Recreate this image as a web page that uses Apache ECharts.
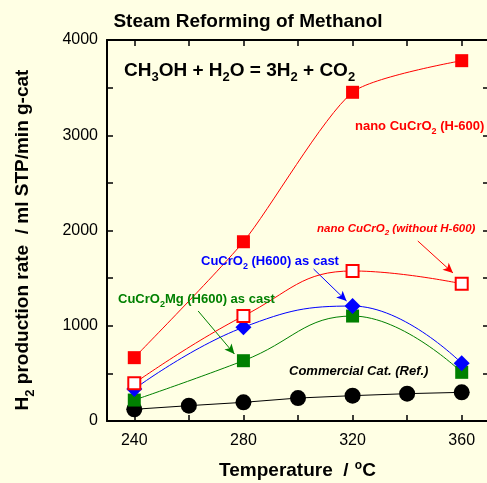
<!DOCTYPE html>
<html>
<head>
<meta charset="utf-8">
<script src="https://cdn.jsdelivr.net/npm/echarts@6/dist/echarts.min.js"></script>
<style>
  html, body { margin: 0; padding: 0; background: #FFFFE4; }
  #chart { width: 487px; height: 483px; }
</style>
</head>
<body>
<div id="chart"></div>
<script>
// Reaction temperatures (°C)
const temps = [240, 280, 320, 360];
const refTemps = [240, 260, 280, 300, 320, 340, 360];

// H2 production rate, ml STP/min g-cat
const nanoH600 = [665, 1882, 3451, 3783];
const nanoNoH600 = [396, 1102, 1575, 1441];
const castH600 = [336, 984, 1207, 606];
const castMgH600 = [220, 633, 1102, 511];
const commercialRef = [123, 161, 196, 241, 266, 287, 301];

// Axis ticks and labels
const xTicks = [240, 260, 280, 300, 320, 340, 360];
const xLabels = [240, 280, 320, 360];
const yTicks = [0, 500, 1000, 1500, 2000, 2500, 3000, 3500, 4000];
const yLabels = [0, 1000, 2000, 3000, 4000];

const FONT = '"Liberation Sans", Arial, sans-serif';
const pairs = (xs, ys) => xs.map((x, i) => [x, ys[i]]);

// Rich styles with a lowered subscript for graphic text
function subRich(size, color, italic) {
  const base = { fontFamily: FONT, fontWeight: 'bold', fontSize: size, fill: color, fontStyle: italic ? 'italic' : 'normal' };
  return {
    b: Object.assign({}, base),
    s: Object.assign({}, base, { fontSize: Math.round(size * 0.7), padding: [Math.round(size * 0.75), 0, 0, 0] }),
    o: Object.assign({}, base, { fontSize: Math.round(size * 0.62), padding: [0, 0, Math.round(size * 0.55), 1] })
  };
}

function arrow(color, from, to) {
  return {
    silent: true,
    symbol: ['none', 'arrow'],
    symbolSize: [7, 10],
    label: { show: false },
    lineStyle: { color: color, width: 1, type: 'solid' },
    data: [[{ coord: from }, { coord: to }]]
  };
}

const chart = echarts.init(document.getElementById('chart'), null, { renderer: 'canvas' });

const tickStyle = { show: true, inside: true, length: 6, lineStyle: { color: '#000', width: 1.5 } };
const lineStyleAxis = { show: true, onZero: false, lineStyle: { color: '#000', width: 2 } };

chart.setOption({
  backgroundColor: '#FFFFE4',
  animation: false,
  grid: { left: 107, top: 40, width: 382, height: 381, containLabel: false, outerBoundsMode: 'none' },
  xAxis: [
    {
      type: 'value', min: 230, max: 370, position: 'bottom',
      axisLine: lineStyleAxis,
      axisTick: Object.assign({}, tickStyle, { customValues: xTicks }),
      axisLabel: { customValues: xLabels, fontFamily: FONT, fontSize: 16, color: '#000', margin: 12,
        formatter: v => String(v) },
      splitLine: { show: false }
    },
    {
      type: 'value', min: 230, max: 370, position: 'top',
      axisLine: lineStyleAxis,
      axisTick: Object.assign({}, tickStyle, { customValues: xTicks }),
      axisLabel: { show: false },
      splitLine: { show: false }
    }
  ],
  yAxis: [
    {
      type: 'value', min: 0, max: 4000, position: 'left',
      axisLine: lineStyleAxis,
      axisTick: Object.assign({}, tickStyle, { customValues: yTicks }),
      axisLabel: { customValues: yLabels, fontFamily: FONT, fontSize: 16, color: '#000', margin: 9,
        formatter: v => String(v) },
      splitLine: { show: false }
    },
    {
      type: 'value', min: 0, max: 4000, position: 'right',
      axisLine: lineStyleAxis,
      axisTick: Object.assign({}, tickStyle, { customValues: yTicks }),
      axisLabel: { show: false },
      splitLine: { show: false }
    }
  ],
  series: [
    {
      name: 'Commercial Cat. (Ref.)', type: 'line', data: pairs(refTemps, commercialRef),
      symbol: 'circle', symbolSize: 16,
      itemStyle: { color: '#000' }, lineStyle: { color: '#000', width: 1 }, z: 2
    },
    {
      name: 'CuCrO2Mg (H600) as cast', type: 'line', smooth: 0.45, data: pairs(temps, castMgH600),
      symbol: 'rect', symbolSize: 13,
      itemStyle: { color: '#008000' }, lineStyle: { color: '#008000', width: 1 }, z: 3,
      markLine: arrow('#008000', [263.4, 1155], [276.7, 703])
    },
    {
      name: 'CuCrO2 (H600) as cast', type: 'line', smooth: 0.45, data: pairs(temps, castH600),
      symbol: 'diamond', symbolSize: [16, 16],
      itemStyle: { color: '#0000FF' }, lineStyle: { color: '#0000FF', width: 1 }, z: 4,
      markLine: arrow('#0000FF', [305.7, 1596], [317.8, 1260])
    },
    {
      name: 'nano CuCrO2 (without H-600)', type: 'line', smooth: 0.45, data: pairs(temps, nanoNoH600),
      symbol: 'rect', symbolSize: 12,
      itemStyle: { color: '#FFFFFF', borderColor: '#FF0000', borderWidth: 2 },
      lineStyle: { color: '#FF0000', width: 1 }, z: 5,
      markLine: arrow('#FF0000', [343.9, 1890], [356.8, 1554])
    },
    {
      name: 'nano CuCrO2 (H-600)', type: 'line', smooth: 0.22, data: pairs(temps, nanoH600),
      symbol: 'rect', symbolSize: 13,
      itemStyle: { color: '#FF0000' }, lineStyle: { color: '#FF0000', width: 1 }, z: 6
    }
  ],
  graphic: [
    {
      type: 'text', x: 248, y: 22, z: 10,
      style: { text: 'Steam Reforming of Methanol', fontFamily: FONT, fontWeight: 'bold', fontSize: 19, fill: '#000',
        align: 'center', verticalAlign: 'middle' }
    },
    {
      type: 'text', x: 23, y: 240, z: 10, rotation: Math.PI / 2,
      style: {
        text: '{b|H}{s|2}{b| production rate  / ml STP/min g-cat}',
        rich: subRich(19, '#000', false), align: 'center', verticalAlign: 'middle'
      }
    },
    {
      type: 'text', x: 297.5, y: 471, z: 10,
      style: {
        text: '{b|Temperature  / }{o|o}{b|C}',
        rich: subRich(19, '#000', false), align: 'center', verticalAlign: 'middle'
      }
    },
    {
      type: 'text', x: 124, y: 57, z: 10,
      style: {
        text: '{b|CH}{s|3}{b|OH + H}{s|2}{b|O = 3H}{s|2}{b| + CO}{s|2}',
        rich: subRich(19, '#000', false)
      }
    },
    {
      type: 'text', x: 355, y: 117, z: 10,
      style: { text: '{b|nano CuCrO}{s|2}{b| (H-600)}', rich: subRich(13, '#FF0000', false) }
    },
    {
      type: 'text', x: 317, y: 220, z: 10,
      style: { text: '{b|nano CuCrO}{s|2}{b| (without H-600)}', rich: subRich(11.5, '#FF0000', true) }
    },
    {
      type: 'text', x: 201, y: 252, z: 10,
      style: { text: '{b|CuCrO}{s|2}{b| (H600) as cast}', rich: subRich(13, '#0000FF', false) }
    },
    {
      type: 'text', x: 118, y: 290, z: 10,
      style: { text: '{b|CuCrO}{s|2}{b|Mg (H600) as cast}', rich: subRich(13, '#008000', false) }
    },
    {
      type: 'text', x: 289, y: 365, z: 10,
      style: { text: 'Commercial Cat. (Ref.)', fontFamily: FONT, fontWeight: 'bold', fontStyle: 'italic', fontSize: 13, fill: '#000' }
    }
  ]
});
</script>
</body>
</html>
